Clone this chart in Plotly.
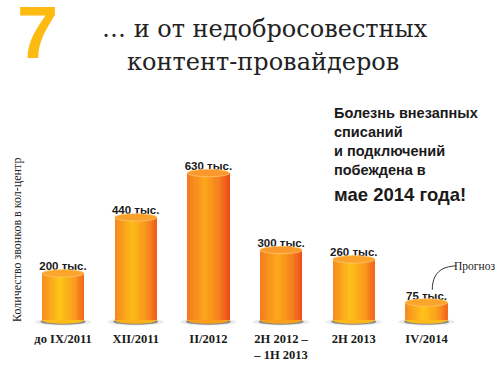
import plotly.graph_objects as go

# ---- data ----
categories = ["до IX/2011", "XII/2011", "II/2012", "2H 2012 –<br>– 1H 2013", "2H 2013", "IV/2014"]
values = [200, 440, 630, 300, 260, 75]
value_labels = ["200 тыс.", "440 тыс.", "630 тыс.", "300 тыс.", "260 тыс.", "75 тыс."]
warmth = [0.15, 0.45, 1.0, 0.9, 0.3, 0.2]   # 0 = yellow cylinder, 1 = orange cylinder

title_line1 = "… и от недобросовестных"
title_line2 = "контент-провайдеров"
side_text = "Болезнь внезапных<br>списаний<br>и подключений<br>побеждена в"
side_text_big = "мае 2014 года!"
y_title = "Количество звонков в кол-центр"
forecast_label = "Прогноз"

xs = list(range(len(categories)))
W = 0.58
N = 18

def hex2rgb(h):
    h = h.lstrip("#")
    return [int(h[i:i + 2], 16) for i in (0, 2, 4)]

def mix(a, b, t):
    return [a[i] + (b[i] - a[i]) * t for i in range(3)]

def rgb(c):
    return "rgb(%d,%d,%d)" % tuple(int(round(v)) for v in c)

# gradient stops (position, yellow palette, orange palette)
stops = [
    (0.0, "#F6901E", "#F47A1F"),
    (0.42, "#FFCB18", "#FBA61B"),
    (0.75, "#FBA51C", "#F5801E"),
    (1.0, "#F26A1E", "#EE4A1A"),
]

def grad(t, w):
    for j in range(len(stops) - 1):
        p0, y0, o0 = stops[j]
        p1, y1, o1 = stops[j + 1]
        if p0 <= t <= p1:
            f = (t - p0) / (p1 - p0)
            cy = mix(hex2rgb(y0), hex2rgb(y1), f)
            co = mix(hex2rgb(o0), hex2rgb(o1), f)
            return mix(cy, co, w)
    return hex2rgb(stops[-1][1])

fig = go.Figure()

for k in range(N):
    t = (k + 0.5) / N
    fig.add_trace(go.Bar(
        x=xs, y=values,
        width=W / N * 1.08,
        offset=-W / 2 + k * W / N,
        marker=dict(color=[rgb(grad(t, w)) for w in warmth], line=dict(width=0)),
        hoverinfo="skip", showlegend=False,
    ))

# value labels
fig.add_trace(go.Scatter(
    x=xs, y=values, mode="text", text=value_labels,
    textposition="top center",
    textfont=dict(family="Liberation Sans", size=11.5, color="#1a1a1a", weight="bold"),
    hoverinfo="skip", showlegend=False,
))

shapes = []
dy = 16
for i, v in enumerate(values):
    # shadow
    shapes.append(dict(type="circle", xref="x", yref="y", layer="below",
                       x0=i - W / 2 - 0.1, x1=i + W / 2 + 0.1, y0=-24, y1=8,
                       fillcolor="rgba(0,0,0,0.08)", line=dict(width=0)))
    shapes.append(dict(type="circle", xref="x", yref="y", layer="below",
                       x0=i - W / 2 - 0.02, x1=i + W / 2 + 0.02, y0=-20, y1=6,
                       fillcolor="rgba(40,40,40,0.5)", line=dict(width=0)))
    # rounded bottom
    shapes.append(dict(type="circle", xref="x", yref="y", layer="below",
                       x0=i - W / 2, x1=i + W / 2, y0=-dy, y1=dy,
                       fillcolor=rgb(grad(0.5, warmth[i])), line=dict(width=0)))
    # top cap
    shapes.append(dict(type="circle", xref="x", yref="y", layer="above",
                       x0=i - W / 2, x1=i + W / 2, y0=v - dy, y1=v + dy,
                       fillcolor=rgb(mix(grad(0.3, warmth[i]), [250, 150, 60], 0.5)),
                       line=dict(width=0.8, color="rgba(255,200,120,0.9)")))

# forecast callout curve
lx = xs[-1] + 0.08
ly = values[-1] + 55
shapes.append(dict(type="path", xref="x", yref="y",
                   path="M %f,%f C %f,%f %f,%f %f,%f" % (lx, ly, lx, ly + 70, lx + 0.12, ly + 100, lx + 0.33, ly + 102),
                   line=dict(color="#333", width=1)))

T, B, H = 90, 39, 366
ph = H - T - B
annotations = []

def pa(xpx, ypx, text, size, family, color="#1a1a1a", bold=False, xanchor="center", yanchor="middle", angle=0):
    annotations.append(dict(
        text=text, xref="paper", yref="paper",
        x=xpx / 500.0, y=(H - B - ypx) / ph,
        showarrow=False, xanchor=xanchor, yanchor=yanchor, textangle=angle,
        font=dict(size=size, family=family, color=color, weight="bold" if bold else "normal"),
        align="left",
    ))

pa(37, 32, "7", 74, "Liberation Sans", color="#FDBB11", bold=True)
pa(265, 29, title_line1, 24, "DejaVu Serif", color="#222")
pa(263, 62, title_line2, 24, "DejaVu Serif", color="#222")
pa(332, 141, side_text, 14.5, "Liberation Sans", bold=True, xanchor="left")
pa(332, 194, side_text_big, 18.5, "Liberation Sans", bold=True, xanchor="left")
pa(17, 240, y_title, 12, "Liberation Serif", color="#222", angle=-90)
pa(497, 266, forecast_label, 11.5, "Liberation Serif", color="#222", xanchor="right")

x_min = (0 - 63) / 72.7
x_max = (500 - 63) / 72.7

fig.update_layout(
    width=500, height=366,
    margin=dict(l=0, r=0, t=T, b=B),
    barmode="overlay", bargap=0,
    paper_bgcolor="white", plot_bgcolor="rgba(0,0,0,0)",
    shapes=shapes, annotations=annotations,
    xaxis=dict(range=[x_min, x_max], tickvals=xs, ticktext=categories,
               showgrid=False, zeroline=False, showline=False, ticks="",
               tickfont=dict(family="Liberation Serif", size=12.5, color="#1a1a1a", weight="bold"),
               ticklabelstandoff=2, fixedrange=True),
    yaxis=dict(range=[-30, 986], visible=False, showgrid=False, zeroline=False, fixedrange=True),
    showlegend=False,
)

fig.write_html("out.html", config={"displayModeBar": False},
               post_script="document.body.style.margin='0px';document.body.style.overflow='hidden';")
